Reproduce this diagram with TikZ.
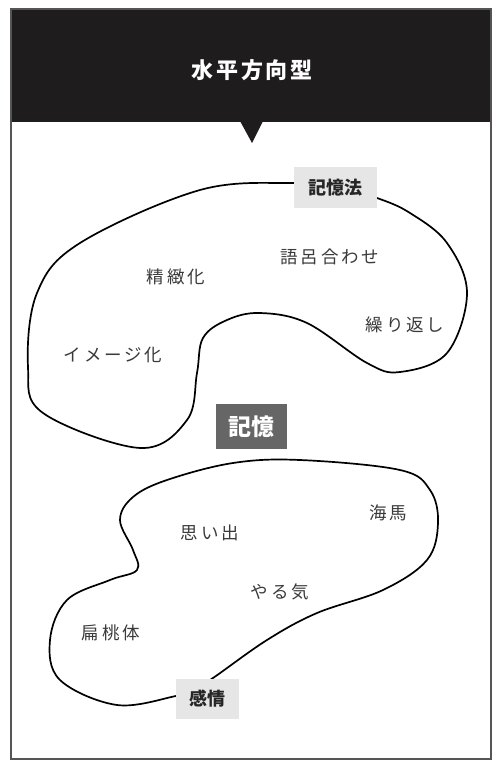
\documentclass[tikz,border=0pt]{standalone}
\usepackage{fontspec}
\setmainfont{Noto Sans CJK JP}
\newfontfamily\jp{Noto Sans CJK JP}
\definecolor{hdr}{HTML}{1E1C1C}
\definecolor{frm}{HTML}{555555}
\definecolor{lbl}{HTML}{3A3A3A}
\definecolor{boxl}{HTML}{E6E6E6}
\definecolor{boxd}{HTML}{666666}
\begin{document}
\begin{tikzpicture}[x=1pt,y=-1pt,
  item/.style={text=lbl, font=\jp\fontsize{17.5}{17.5}\selectfont\addfontfeature{LetterSpace=16}, inner sep=0pt},
  tag/.style={fill=boxl, text=black!85, font=\jp\bfseries\fontsize{18}{18}\selectfont, minimum width=83pt, minimum height=41pt, inner sep=0pt},
  blob/.style={line width=1.7pt, black}]
\useasboundingbox (0,0) rectangle (500,770);
\fill[white] (0,0) rectangle (500,770);
% frame and header
\fill[hdr] (11,9) rectangle (491,122);
\fill[hdr] (240,121) -- (263,121) -- (252,143) -- cycle;
\draw[frm, line width=1.3pt] (11,9) rectangle (491,759);
\node[text=white, font=\jp\bfseries\fontsize{22}{22}\selectfont\addfontfeature{LetterSpace=12}] (title) at (252,70) {水平方向型};
% top blob
\draw[blob] plot[smooth cycle, tension=0.6] coordinates {
  (294,183) (200,190) (80,243) (37,293) (28,367) (43,413) (140,448) (187,420)
  (197,373) (203,338) (227,320) (260,313) (307,323) (367,363) (400,372)
  (447,353) (467,293) (447,243) (410,213) (377,198) (335,186)};
% bottom blob
\draw[blob] plot[smooth cycle, tension=0.6] coordinates {
  (300,460) (400,470) (430,490) (438,523) (427,560) (383,590) (317,613)
  (267,640) (213,678) (190,692) (176,696) (117,705) (60,680) (50,640) (67,600)
  (110,580) (137,570) (133,550) (120,520) (133,497) (167,480) (233,463)};
% labels
\node[tag, minimum width=83pt] (kiokuhou) at (335.5,187.5) {記憶法};
\node[tag, fill=boxd, text=white, font=\jp\bfseries\fontsize{23}{23}\selectfont, minimum width=71pt, minimum height=45pt] (kioku) at (251.5,426.5) {記憶};
\node[tag, minimum width=63pt, minimum height=40pt] (kanjou) at (207.5,699) {感情};
\node[item] (seichi) at (176,277) {精緻化};
\node[item] (goro) at (330,257) {語呂合わせ};
\node[item] (kuri) at (405,325) {繰り返し};
\node[item] (image) at (113,355) {イメージ化};
\node[item] (kaiba) at (388,513) {海馬};
\node[item] (omoide) at (210,533) {思い出};
\node[item] (yaruki) at (280,592) {やる気};
\node[item] (hentou) at (111,633) {扁桃体};
\end{tikzpicture}
\end{document}
